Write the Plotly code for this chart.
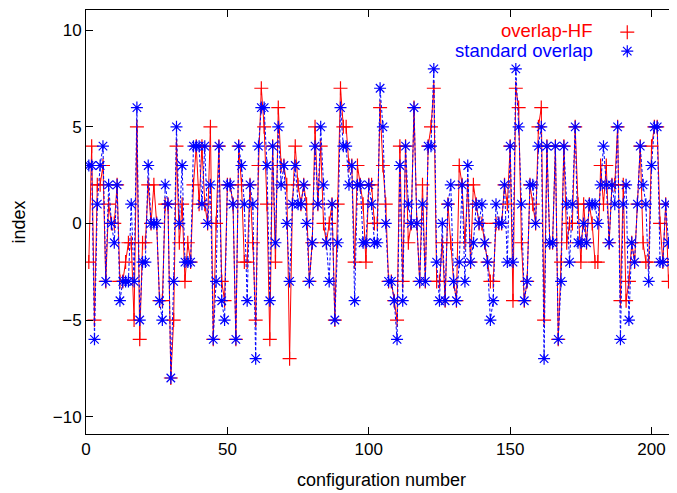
import plotly.graph_objects as go

# values (configuration 1..209)
hf = [-2,4,-5,2,2,3,-3,1,0,0,2,-3,-3,-2,-1,-1,-5,5,-6,-1,
      -1,2,0,2,0,-4,-4,1,1,-8,-5,4,-1,1,-3,-1,-2,2,4,1,
      4,1,0,5,-6,0,4,-3,-4,2,2,1,-6,4,2,-2,-2,2,-1,-5,
      3,7,5,1,-6,4,-2,6,3,3,2,-7,1,4,2,1,2,1,-3,-1,
      5,1,4,0,-1,0,1,-5,1,7,5,5,3,3,-2,3,2,1,-2,2,
      2,0,0,6,3,1,-3,-3,-4,-5,4,-3,4,-1,0,6,0,-3,2,-3,
      4,5,7,-3,-3,-1,-4,1,-1,-3,-4,3,2,-1,2,-2,2,1,0,0,
      -1,-2,-3,-3,0,0,0,2,1,4,-4,7,6,-1,-4,-3,2,1,0,5,
      6,-5,4,-1,-1,4,-6,-2,4,-1,0,0,5,1,-2,1,-1,1,0,-2,
      -2,3,1,3,-1,2,2,5,-4,2,-4,-3,-1,-2,1,4,-1,-2,-2,4,
      5,5,0,-2,1,-3,-2,1,-5]
std = [3,3,-6,1,3,4,-3,2,0,-1,2,-4,-3,-3,-3,1,-3,6,-5,-2,
       -2,3,0,0,0,-4,-5,2,1,-8,-3,5,0,3,-2,-2,-2,4,4,4,
       1,4,0,2,-6,-3,4,-4,-5,2,2,1,-6,4,3,1,-4,2,1,-7,
       4,6,6,3,-4,4,-1,5,2,3,0,-3,1,3,1,1,2,0,-3,-1,
       4,1,5,2,-1,-3,1,-5,-1,6,4,4,2,3,-4,2,2,-1,-1,2,
       1,-1,-1,7,5,0,-3,-3,-4,-6,3,-4,4,1,0,6,0,-3,1,-3,
       4,4,8,-2,-4,0,-4,1,2,-3,-4,-2,2,-3,3,-2,-1,1,0,1,
       -1,-2,-5,-4,1,0,0,2,-2,4,-2,8,5,1,-4,-3,2,2,0,4,
       5,-7,4,-1,-1,4,-6,-3,4,1,-2,1,5,-1,-1,0,-1,1,1,1,
       0,2,4,2,-1,2,1,5,-6,1,2,-5,-1,-2,1,4,2,1,-3,3,
       5,5,-2,-2,1,-1,-2,-2,2]
conf = list(range(1, len(hf) + 1))
conf_std = list(range(1, len(std) + 1))

labels = ["overlap-HF", "standard overlap"]
colors = ["#ff0000", "#0000ff"]

FONT = "Liberation Sans, Arial, sans-serif"

fig = go.Figure()
fig.add_trace(go.Scatter(
    x=conf, y=hf, mode="lines+markers", showlegend=False,
    line=dict(color=colors[0], width=1),
    marker=dict(symbol="cross-thin", size=10, line=dict(color=colors[0], width=1.2)),
))
fig.add_trace(go.Scatter(
    x=conf_std, y=std, mode="lines+markers", showlegend=False,
    line=dict(color=colors[1], width=1, dash="3px,2px"),
    marker=dict(symbol="asterisk-open", size=10, line=dict(color=colors[1], width=1.2)),
))
# legend samples (markers only)
fig.add_trace(go.Scatter(
    x=[None], y=[None], mode="markers", name=" ",
    marker=dict(symbol="cross-thin", size=10, color=colors[0],
                line=dict(color=colors[0], width=1.2)),
))
fig.add_trace(go.Scatter(
    x=[None], y=[None], mode="markers", name=" ",
    marker=dict(symbol="asterisk-open", size=10, color=colors[1],
                line=dict(color=colors[1], width=1.2)),
))

axis_common = dict(
    showline=True, linecolor="black", linewidth=1, mirror="allticks",
    ticks="inside", ticklen=7, tickcolor="black", showgrid=False, zeroline=False,
    tickfont=dict(family=FONT, size=17, color="black"),
)

fig.update_layout(
    width=669, height=485,
    margin=dict(l=78, r=0, t=2, b=59),
    paper_bgcolor="white", plot_bgcolor="white",
    font=dict(family=FONT, size=17, color="black"),
    xaxis=dict(range=[0, 209], tickvals=[0, 50, 100, 150, 200],
               title=dict(text="configuration number", standoff=14,
                          font=dict(family=FONT, size=18)),
               **axis_common),
    yaxis=dict(range=[-10.9, 11.05], tickvals=[-10, -5, 0, 5, 10],
               title=dict(text="index", standoff=22,
                          font=dict(family=FONT, size=18)),
               **axis_common),
    legend=dict(x=0.882, y=0.982, xanchor="left", yanchor="top",
                bgcolor="rgba(0,0,0,0)", font=dict(size=11),
                tracegroupgap=0, itemwidth=30),
    annotations=[
        dict(text=labels[0], xref="paper", yref="paper", x=0.861, y=0.951,
             xanchor="right", yanchor="middle", showarrow=False,
             font=dict(family=FONT, size=18.5, color=colors[0])),
        dict(text=labels[1], xref="paper", yref="paper", x=0.861, y=0.904,
             xanchor="right", yanchor="middle", showarrow=False,
             font=dict(family=FONT, size=18.5, color=colors[1])),
    ],
)

fig.write_html("out.html")
